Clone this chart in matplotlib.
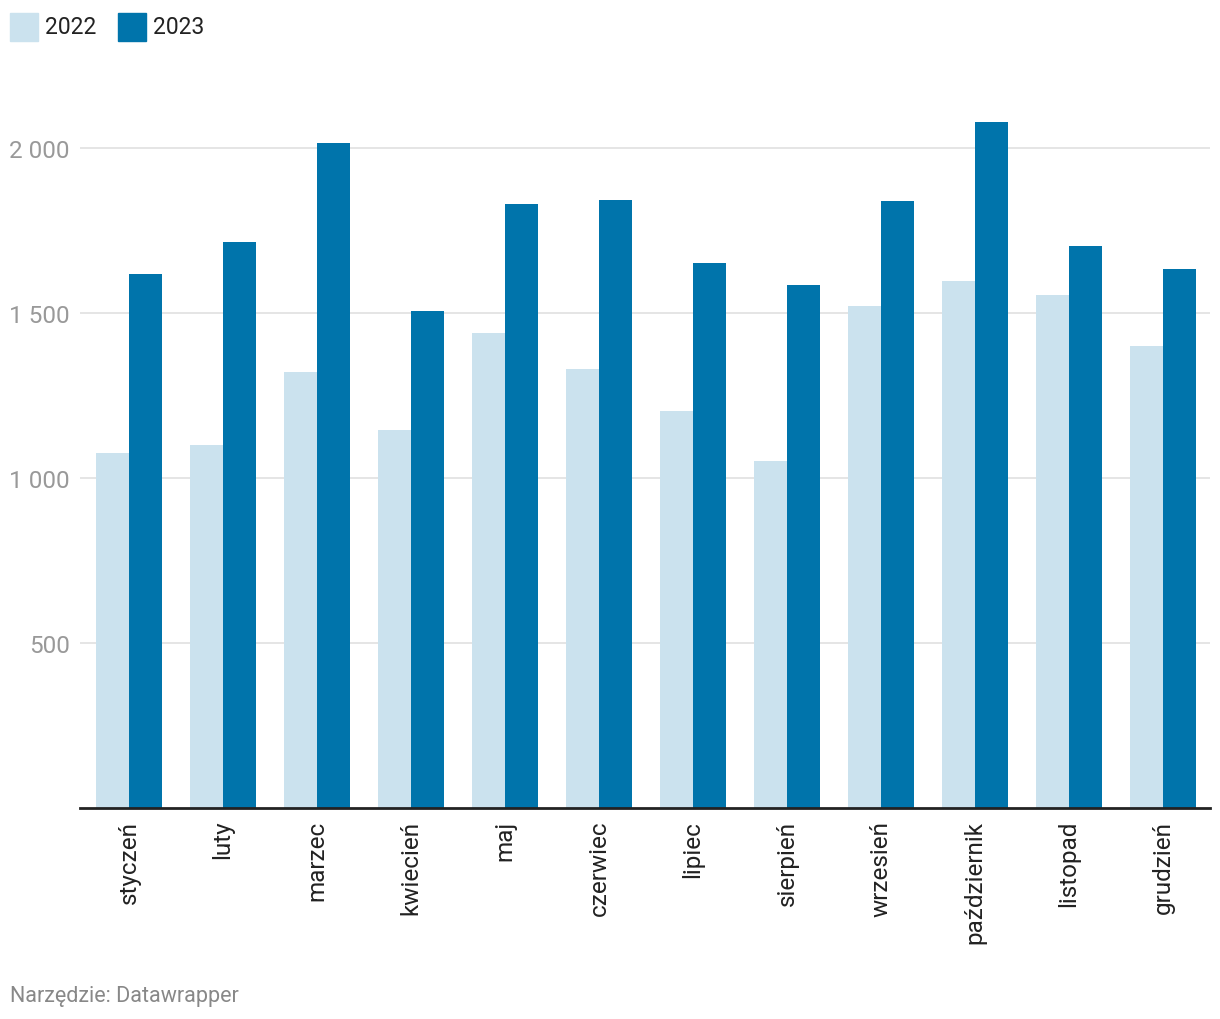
import numpy as np
import matplotlib.pyplot as plt
from matplotlib.patches import Rectangle

plt.rcParams['font.family'] = ['Roboto', 'DejaVu Sans']

months = ['styczeń', 'luty', 'marzec', 'kwiecień', 'maj', 'czerwiec',
          'lipiec', 'sierpień', 'wrzesień', 'październik', 'listopad', 'grudzień']
values_2022 = [1076, 1100, 1321, 1145, 1439, 1330, 1203, 1052, 1521, 1597, 1555, 1400]
values_2023 = [1618, 1715, 2015, 1506, 1830, 1842, 1652, 1585, 1839, 2079, 1703, 1633]
yticks = [500, 1000, 1500, 2000]
ytick_labels = ['500', '1 000', '1 500', '2 000']

color_2022 = '#cbe2ee'
color_2023 = '#0074ab'

W, H = 1220, 1020
fig = plt.figure(figsize=(W / 100, H / 100), dpi=100)
ax = fig.add_axes([80 / W, 1 - 809 / H, 1130 / W, 709 / H])

x = np.arange(len(months))
bw = 0.351
ax.bar(x - bw / 2, values_2022, width=bw, color=color_2022, zorder=2)
ax.bar(x + bw / 2, values_2023, width=bw, color=color_2023, zorder=2)

ax.set_xlim(-0.521, 11.5)
ax.set_ylim(0, 2148)

ax.set_yticks(yticks)
ax.set_yticklabels(ytick_labels)
ax.tick_params(axis='y', length=0, pad=7.5, labelsize=17.5, labelcolor='#999999')
ax.yaxis.grid(True, color='#e3e3e3', linewidth=1.3, zorder=0)

ax.set_xticks(x)
ax.set_xticklabels(months, rotation=90, va='top', ha='center')
ax.tick_params(axis='x', length=0, pad=8.5, labelsize=17.5, labelcolor='#222222')

for s in ['top', 'right', 'left']:
    ax.spines[s].set_visible(False)
ax.spines['bottom'].set_color('#222222')
ax.spines['bottom'].set_linewidth(2)
ax.spines['bottom'].set_zorder(3)

# legend at top-left
fig.patches.append(Rectangle((10 / W, 1 - 42 / H), 28 / W, 28 / H,
                             transform=fig.transFigure, color=color_2022))
fig.text(45 / W, 1 - 27 / H, '2022', fontsize=16.5, color='#222222', va='center')
fig.patches.append(Rectangle((118 / W, 1 - 42 / H), 28 / W, 28 / H,
                             transform=fig.transFigure, color=color_2023))
fig.text(153 / W, 1 - 27 / H, '2023', fontsize=16.5, color='#222222', va='center')

fig.text(10 / W, 1 - 997 / H, 'Narzędzie: Datawrapper', fontsize=15.5,
         color='#888888', va='center')

plt.savefig('out.png', dpi=100)
plt.close()
